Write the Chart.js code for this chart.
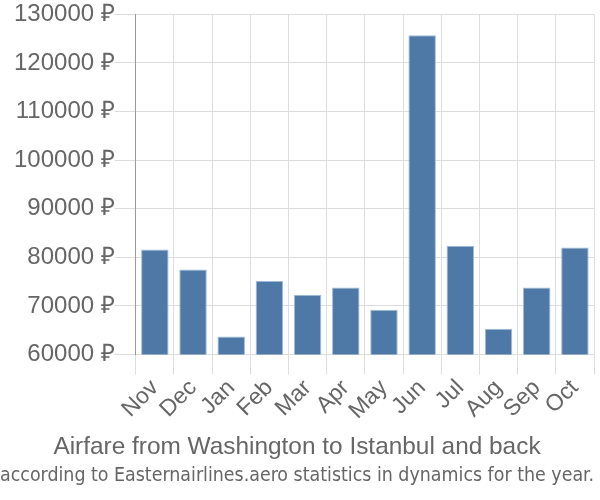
<!DOCTYPE html>
<html>
<head>
<meta charset="utf-8">
<script src="https://cdn.jsdelivr.net/npm/chart.js@4/dist/chart.umd.min.js"></script>
<style>
  html, body { margin: 0; padding: 0; background: #fff; }
  #wrap { width: 600px; height: 500px; }
</style>
</head>
<body>
<div id="wrap"><canvas id="chart-fares"></canvas></div>
<script>
const months = ['Nov', 'Dec', 'Jan', 'Feb', 'Mar', 'Apr', 'May', 'Jun', 'Jul', 'Aug', 'Sep', 'Oct'];
const fares = [81600, 77500, 63700, 75100, 72300, 73800, 69200, 125700, 82400, 65300, 73800, 82000];
const yMin = 60000;
const yMax = 130000;
const yStep = 10000;
const titleText = 'Airfare from Washington to Istanbul and back';
const subtitleText = 'according to Easternairlines.aero statistics in dynamics for the year.';

const fontFamily = '"Liberation Sans", Arial, sans-serif';

new Chart(document.getElementById('chart-fares'), {
  type: 'bar',
  data: {
    labels: months,
    datasets: [{
      label: 'Fare',
      data: fares,
      backgroundColor: '#4e79a7',
      borderColor: '#9dbbd9',
      borderWidth: 1,
    }],
  },
  options: {
    responsive: true,
    maintainAspectRatio: false,
    animation: false,
    layout: { padding: { top: 4, right: 6, left: 0, bottom: 0 } },
    plugins: {
      legend: { display: false },
      tooltip: { enabled: false },
      title: {
        display: true,
        position: 'bottom',
        weight: 1000,
        text: titleText,
        color: '#666',
        font: { family: fontFamily, size: 24.4, weight: 'normal' },
        padding: { top: 8, bottom: 1 },
      },
      subtitle: {
        display: true,
        position: 'bottom',
        weight: 2000,
        text: subtitleText,
        color: '#666',
        font: { family: '"Liberation Sans Narrow", "DejaVu Sans Condensed", sans-serif', size: 20 },
        padding: { top: 1, bottom: 12 },
      },
    },
    scales: {
      x: {
        grid: { color: '#ddd', tickLength: 20, offset: true },
        border: { color: '#ddd' },
        ticks: {
          color: '#666',
          font: { family: fontFamily, size: 23 },
          autoSkip: false,
          maxRotation: 45,
          minRotation: 45,
          padding: 0,
        },
      },
      y: {
        min: yMin,
        max: yMax,
        afterFit: scale => { scale.width += 14; },
        grid: { color: '#ddd', tickLength: 21 },
        border: { color: '#999' },
        ticks: {
          stepSize: yStep,
          color: '#666',
          padding: 0,
          font: { family: fontFamily, size: 24 },
          callback: v => v + ' ₽',
        },
      },
    },
  },
});
</script>
</body>
</html>
